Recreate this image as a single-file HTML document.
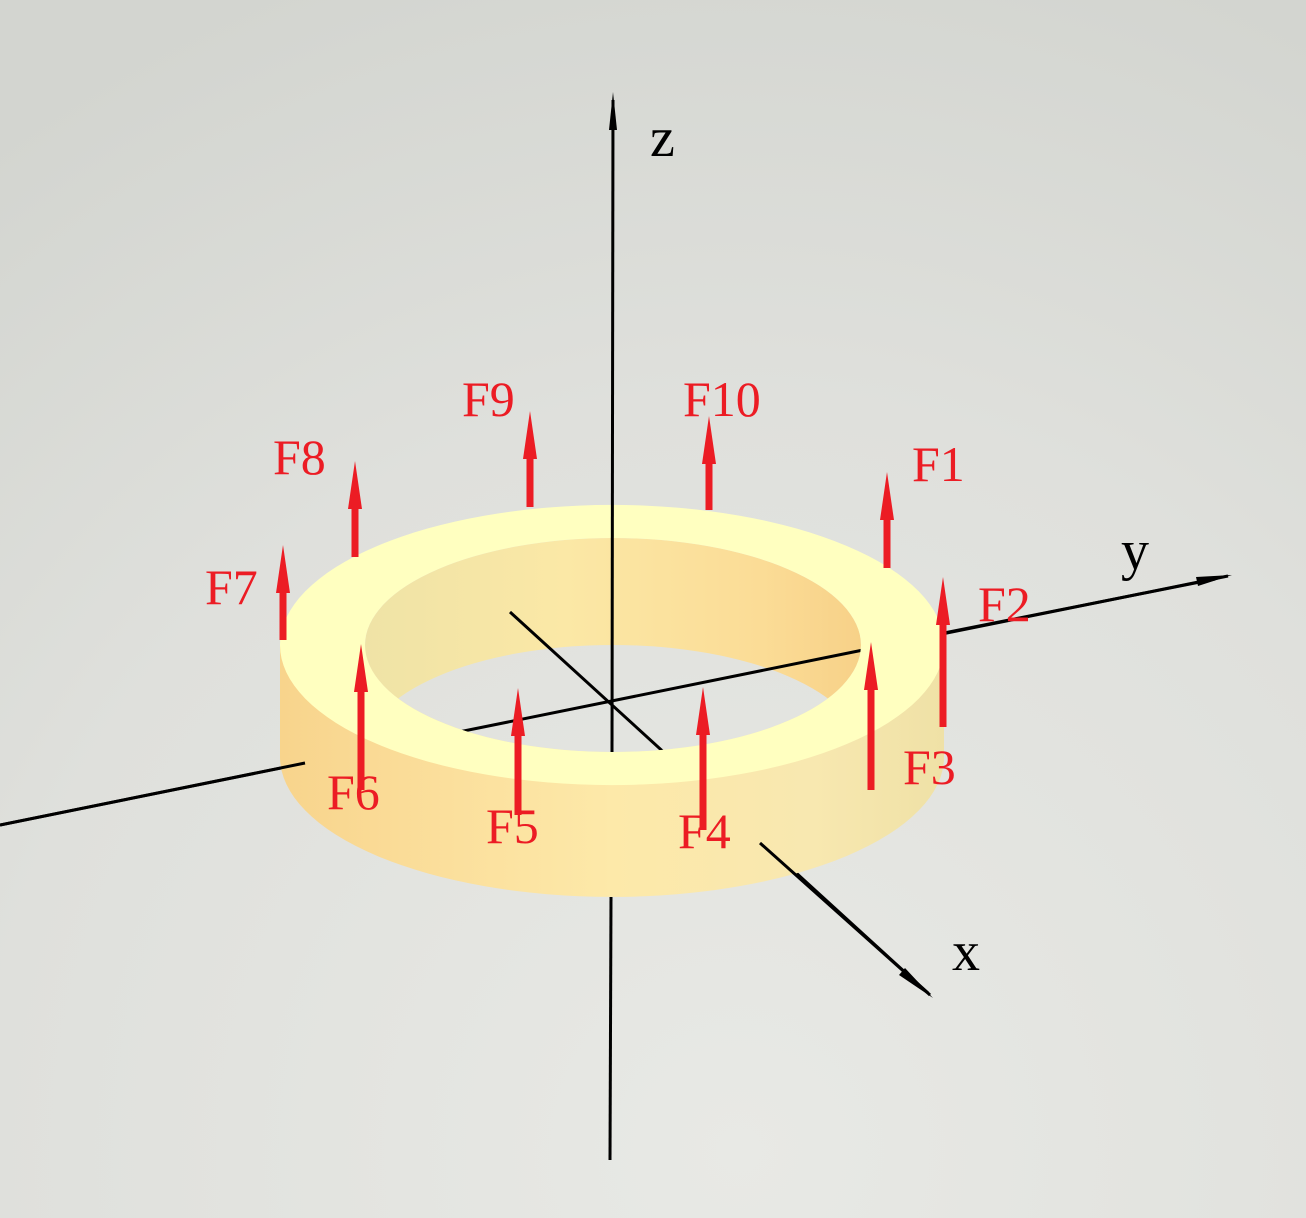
<!DOCTYPE html>
<html><head><meta charset="utf-8"><style>
html,body{margin:0;padding:0;width:1306px;height:1218px;overflow:hidden}
svg text{font-family:"Liberation Serif",serif}
</style></head><body>
<svg width="1306" height="1218" viewBox="0 0 1306 1218" xmlns="http://www.w3.org/2000/svg">
<defs>
<radialGradient id="bg" gradientUnits="userSpaceOnUse" cx="740" cy="1150" r="1250">
<stop offset="0" stop-color="#e8e9e5"/><stop offset="0.6" stop-color="#dfe0dc"/><stop offset="1" stop-color="#d3d5d0"/>
</radialGradient>
<linearGradient id="side" x1="0" x2="1" y1="0" y2="0">
<stop offset="0" stop-color="#f8d48c"/><stop offset="0.25" stop-color="#fbdf9c"/><stop offset="0.5" stop-color="#fde9a9"/><stop offset="0.8" stop-color="#f8e8b0"/><stop offset="1" stop-color="#efe1a6"/>
</linearGradient>
<linearGradient id="wall" x1="0" x2="1" y1="0" y2="0">
<stop offset="0" stop-color="#efe3a6"/><stop offset="0.4" stop-color="#fbe8a6"/><stop offset="0.8" stop-color="#fbdc96"/><stop offset="1" stop-color="#f7d188"/>
</linearGradient>
<mask id="wallMask"><rect width="1306" height="1218" fill="black"/><ellipse cx="613" cy="645" rx="248" ry="107" fill="white"/><ellipse cx="613" cy="752" rx="248" ry="107" fill="black"/></mask>
<clipPath id="hole"><ellipse cx="613" cy="645" rx="248" ry="107"/></clipPath>
</defs>
<rect width="1306" height="1218" fill="url(#bg)"/>
<g stroke="#000" stroke-width="3">
<line x1="0" y1="825" x2="1228" y2="576"/>
<line x1="510" y1="612" x2="930" y2="995"/>
</g>
<g>
<path d="M280 645 L280 757 A332 140 0 0 0 944 757 L944 645 Z" fill="url(#side)"/>
<ellipse cx="613" cy="645" rx="248" ry="107" fill="url(#bg)"/>
<rect x="365" y="530" width="496" height="230" fill="url(#wall)" mask="url(#wallMask)"/>
<g clip-path="url(#hole)" stroke="#000" stroke-width="3">
<line x1="0" y1="825" x2="1228" y2="576"/>
<line x1="510" y1="612" x2="930" y2="995"/>
</g>
<path fill-rule="evenodd" fill="#ffffc0" d="M280 645 A332 140 0 1 0 944 645 A332 140 0 1 0 280 645 Z M365 645 A248 107 0 1 0 861 645 A248 107 0 1 0 365 645 Z"/>
</g>
<g stroke="#000" stroke-width="3">
<line x1="613" y1="100" x2="612" y2="752"/>
<line x1="611" y1="897" x2="610" y2="1160"/>
<line x1="0" y1="825" x2="305" y2="763"/>
<line x1="944" y1="633" x2="1215" y2="579"/>
<line x1="760" y1="843" x2="928" y2="993"/>
</g>
<polygon points="613,92 609,130 617,130" fill="#000"/>
<polygon points="1232,575 1196,577 1198,586" fill="#000"/>
<polygon points="933,998 905,968 899,975" fill="#000"/>
<text x="650" y="156" font-size="56" fill="#000">z</text>
<text x="1121" y="569" font-size="56" fill="#000">y</text>
<text x="952" y="970" font-size="56" fill="#000">x</text>
<g id="forces"></g>
</svg>
<script>
const forceLabels=["F1","F2","F3","F4","F5","F6","F7","F8","F9","F10"];
const forceX=[887,943,871,703,518,361,283,355,530,709];
const forceBase=[568,727,790,830,815,790,640,557,507,510];
const forceTip=[472,577,642,687,688,644,545,461,411,416];
const labelX=[912,978,903,678,486,327,205,273,462,683];
const labelY=[481,621,784,848,843,809,604,474,416,416];
const g=document.getElementById('forces');
const NS='http://www.w3.org/2000/svg';
for(let i=0;i<forceLabels.length;i++){
  const x=forceX[i],b=forceBase[i],t=forceTip[i];
  const grp=document.createElementNS(NS,'g');
  
  
  const sh=document.createElementNS(NS,'rect');
  
  
  sh.setAttribute('x',x-3.5);sh.setAttribute('y',t+40);sh.setAttribute('width',7);sh.setAttribute('height',b-t-40);
  sh.setAttribute('fill','#ec1c24');
  grp.appendChild(sh);
  const hd=document.createElementNS(NS,'polygon');
  
  
  hd.setAttribute('points',`${x},${t} ${x-7},${t+48} ${x+7},${t+48}`);
  hd.setAttribute('fill','#ec1c24');
  grp.appendChild(hd);
  const tx=document.createElementNS(NS,'text');
  
  
  tx.setAttribute('x',labelX[i]);tx.setAttribute('y',labelY[i]);
  tx.setAttribute('font-size','50');tx.setAttribute('fill','#ec1c24');
  tx.textContent=forceLabels[i];
  grp.appendChild(tx);
  g.appendChild(grp);
}
</script>
</body></html>
